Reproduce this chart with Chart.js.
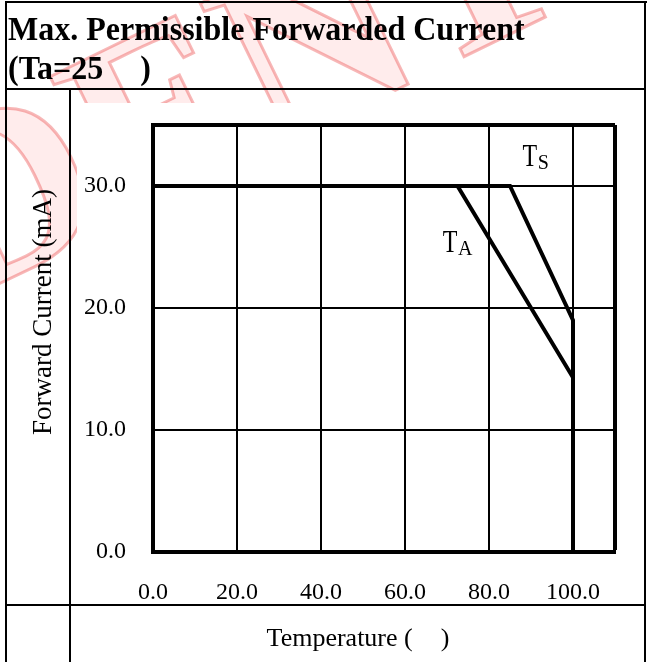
<!DOCTYPE html>
<html><head><meta charset="utf-8">
<script src="https://cdn.jsdelivr.net/npm/chart.js@4.4.1/dist/chart.umd.min.js"></script>
<style>
html,body{margin:0;padding:0;background:#fff;}
body{width:648px;height:662px;position:relative;overflow:hidden;font-family:"Liberation Serif","Times New Roman",serif;}
#wm{position:absolute;left:-860px;top:470px;font:bold 250px "Liberation Serif",serif;color:rgba(255,110,110,0.13);-webkit-text-stroke:3px rgba(230,40,40,0.33);transform:rotate(-26deg);transform-origin:0 0;white-space:nowrap;z-index:0;line-height:1;}
#white{position:absolute;left:77px;top:103px;width:567px;height:501px;background:#fff;z-index:1;}
#wrap{position:absolute;left:0;top:0;width:648px;height:662px;z-index:2;}
.ln{position:absolute;background:#000;z-index:3;}
.tx{position:absolute;z-index:3;white-space:nowrap;color:#000;}
.tt{transform:scaleY(1.07);transform-origin:0 27px;}
</style></head>
<body>
<div id="wm">CONFIDENTIAL</div>
<div id="white"></div>
<div id="wrap"><canvas id="c" width="648" height="662"></canvas></div>

<div class="ln" style="left:5px;top:1px;width:642px;height:2px"></div>
<div class="ln" style="left:5px;top:1px;width:2px;height:661px"></div>
<div class="ln" style="left:644px;top:1px;width:2px;height:661px"></div>
<div class="ln" style="left:5px;top:88px;width:641px;height:2px"></div>
<div class="ln" style="left:69px;top:88px;width:2px;height:574px"></div>
<div class="ln" style="left:5px;top:604px;width:641px;height:2px"></div>

<div class="tx tt" style="left:8px;top:12.7px;font-weight:bold;font-size:32px;line-height:32px">Max. Permissible Forwarded Current</div>
<div class="tx tt" style="left:8px;top:52.2px;font-weight:bold;font-size:32px;line-height:32px">(Ta=25<span style="display:inline-block;width:37px"></span>)</div>
<div class="tx" style="left:-108px;top:297px;width:300px;text-align:center;font-size:27px;line-height:30px;transform:rotate(-90deg);transform-origin:150px 15px">Forward Current (mA)</div>
<div class="tx" style="left:70px;width:576px;text-align:center;top:625px;font-size:26px;line-height:26px">Temperature (<span style="display:inline-block;width:28px"></span>)</div>

<script>
// ---- data ----
const temperatureTA = [0, 72.5, 100, 100];
const currentTA     = [30, 30, 14.3, 0];
const temperatureTS = [0, 85, 100, 100];
const currentTS     = [30, 30, 19, 0];
const xTickValues = [0, 20, 40, 60, 80, 100];
const yTickValues = [0, 10, 20, 30];
const xMax = 110;
const yMax = 35;
const seriesNames = ['TA', 'TS'];

// label annotations (in data units)
const seriesLabelMain = ['T', 'T'];
const seriesLabelSub  = ['A', 'S'];
const seriesLabelX    = [69, 88];
const seriesLabelY    = [24.6, 31.6];

const FONT = "'Liberation Serif', 'Times New Roman', serif";
const toPoints = (xs, ys) => xs.map((x, i) => ({x: x, y: ys[i]}));

const labelPlugin = {
  id: 'seriesLabels',
  afterDatasetsDraw(chart) {
    const {ctx, scales} = chart;
    for (let i = 0; i < seriesLabelMain.length; i++) {
      const px = scales.x.getPixelForValue(seriesLabelX[i]);
      const py = scales.y.getPixelForValue(seriesLabelY[i]);
      ctx.save();
      ctx.fillStyle = '#000';
      ctx.textBaseline = 'alphabetic';
      ctx.textAlign = 'left';
      ctx.translate(px, py);
      ctx.save();
      ctx.scale(1, 1.3);
      ctx.font = '24px ' + FONT;
      ctx.fillText(seriesLabelMain[i], 0, 0);
      const w = ctx.measureText(seriesLabelMain[i]).width;
      ctx.restore();
      ctx.font = '20px ' + FONT;
      ctx.fillText(seriesLabelSub[i], w + 0.5, 3);
      ctx.restore();
    }
  }
};

const lineStyle = {
  showLine: true, borderColor: '#000', backgroundColor: '#000',
  borderWidth: 4, pointRadius: 0, tension: 0, fill: false
};

new Chart(document.getElementById('c'), {
  type: 'scatter',
  data: {
    datasets: [
      Object.assign({label: seriesNames[0], data: toPoints(temperatureTA, currentTA)}, lineStyle),
      Object.assign({label: seriesNames[1], data: toPoints(temperatureTS, currentTS)}, lineStyle)
    ]
  },
  options: {
    responsive: false,
    animation: false,
    devicePixelRatio: 1,
    layout: {padding: {left: 0, top: 125, right: 33, bottom: 0}},
    plugins: {legend: {display: false}, tooltip: {enabled: false}, title: {display: false}},
    scales: {
      x: {
        type: 'linear', min: 0, max: xMax,
        afterBuildTicks: s => { s.ticks = xTickValues.concat([xMax]).map(v => ({value: v})); },
        afterFit: s => { s.height = 110; },
        ticks: {
          autoSkip: false, maxRotation: 0, padding: 26, color: '#000',
          font: {family: FONT, size: 24},
          callback: v => xTickValues.includes(v) ? v.toFixed(1) : ''
        },
        grid: {
          color: '#000', drawTicks: false,
          lineWidth: c => (c.tick && c.tick.value === xMax) ? 4 : 2
        },
        border: {display: true, color: '#000', width: 4}
      },
      y: {
        type: 'linear', min: 0, max: yMax,
        afterBuildTicks: s => { s.ticks = yTickValues.concat([yMax]).map(v => ({value: v})); },
        afterFit: s => { s.width = 153; },
        ticks: {
          autoSkip: false, padding: 27, color: '#000',
          font: {family: FONT, size: 24},
          callback: v => yTickValues.includes(v) ? v.toFixed(1) : ''
        },
        grid: {
          color: '#000', drawTicks: false,
          lineWidth: c => (c.tick && c.tick.value === yMax) ? 4 : 2
        },
        border: {display: true, color: '#000', width: 4}
      }
    }
  },
  plugins: [labelPlugin]
});
</script>
</body></html>
